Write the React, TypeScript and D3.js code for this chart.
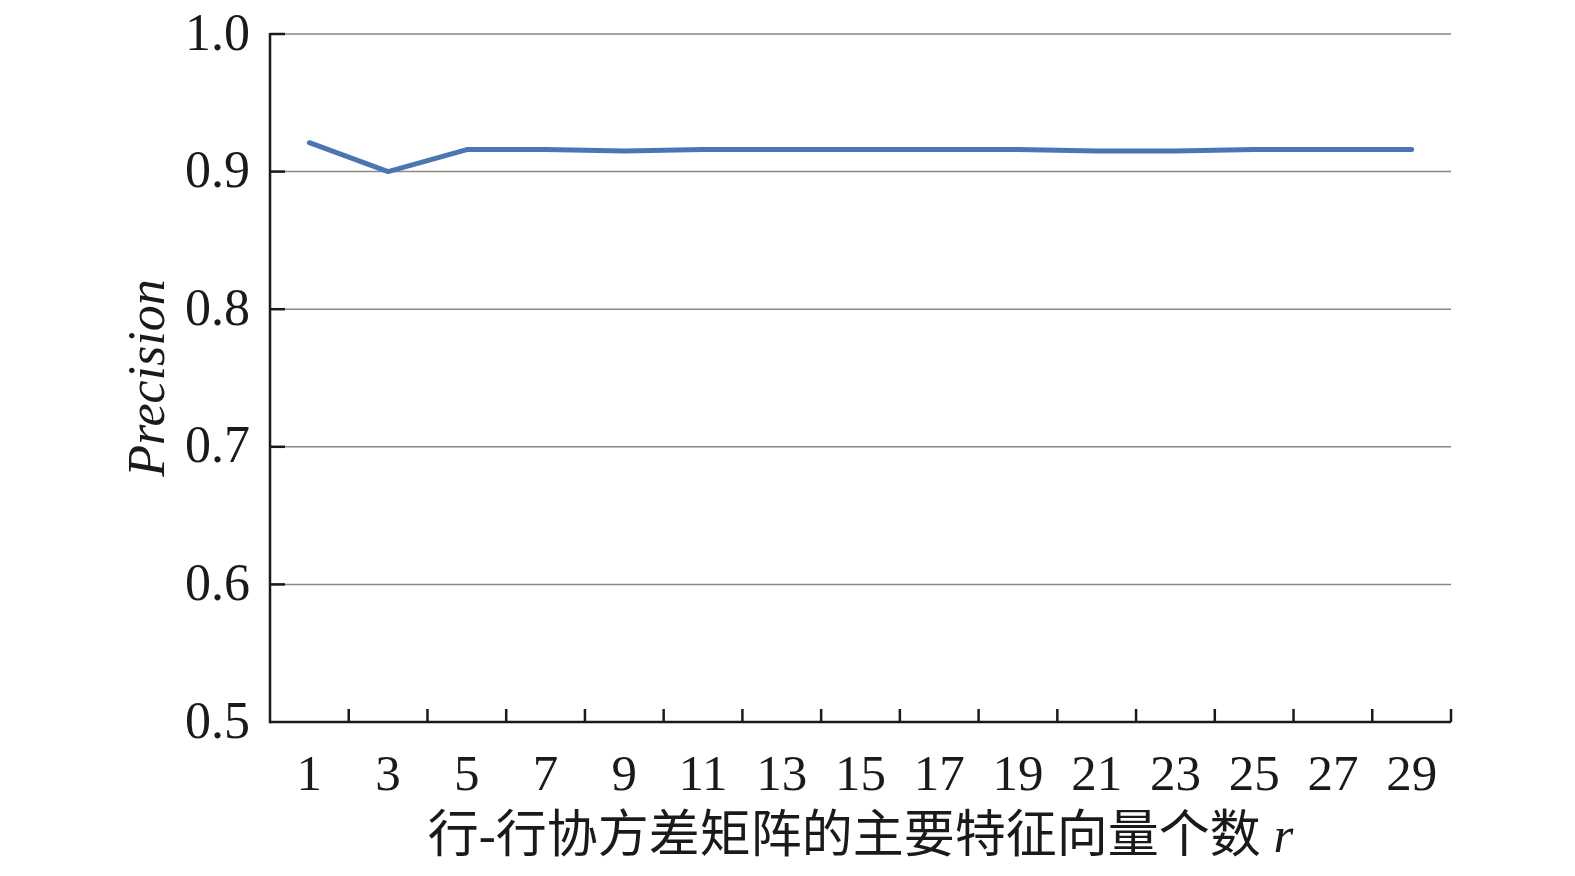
import * as d3 from 'd3'

// categories (number of principal eigenvectors r)
const categories = ['1', '3', '5', '7', '9', '11', '13', '15', '17', '19', '21', '23', '25', '27', '29']
// precision values
const precision = [0.921, 0.9, 0.916, 0.916, 0.915, 0.916, 0.916, 0.916, 0.916, 0.916, 0.915, 0.915, 0.916, 0.916, 0.916]
const yTicks = [0.5, 0.6, 0.7, 0.8, 0.9, 1.0]

const W = 1575
const H = 876
const margin = { top: 34, right: 124, bottom: 154, left: 270 }
const serif = '"Liberation Serif", "Times New Roman", serif'

export default function App() {
  const x = d3.scaleBand<string>()
    .domain(categories)
    .range([margin.left, W - margin.right])
    .padding(0)
  const y = d3.scaleLinear()
    .domain([0.5, 1.0])
    .range([H - margin.bottom, margin.top])

  const line = d3.line<number>()
    .x((_, i) => (x(categories[i]) || 0) + x.bandwidth() / 2)
    .y(d => y(d))

  const x0 = margin.left
  const x1 = W - margin.right
  const yBase = y(0.5)
  const boundaries = categories.map(c => (x(c) || 0) + x.bandwidth())

  return (
    <svg width={W} height={H} style={{ position: 'absolute', left: 0, top: 0, background: '#fff' }}>
      {/* grid lines */}
      {yTicks.filter(t => t > 0.5).map(t => (
        <line key={'g' + t} x1={x0} x2={x1} y1={y(t)} y2={y(t)} stroke="#888" strokeWidth={1.5} />
      ))}
      {/* y tick marks */}
      {yTicks.filter(t => t > 0.5).map(t => (
        <line key={'t' + t} x1={x0} x2={x0 + 15} y1={y(t)} y2={y(t)} stroke="#1a1a1a" strokeWidth={2.5} />
      ))}
      {/* y labels */}
      {yTicks.map(t => (
        <text key={'l' + t} x={x0 - 20} y={y(t)} dy="0.3em" textAnchor="end"
          fontFamily={serif} fontSize={52} fill="#1a1a1a">{d3.format('.1f')(t)}</text>
      ))}
      {/* axes */}
      <line x1={x0} x2={x0} y1={y(1.0) - 1} y2={yBase + 1.25} stroke="#1a1a1a" strokeWidth={2.5} />
      <line x1={x0} x2={x1} y1={yBase} y2={yBase} stroke="#1a1a1a" strokeWidth={2.5} />
      {boundaries.map((b, i) => (
        <line key={'xt' + i} x1={b} x2={b} y1={yBase} y2={yBase - 13} stroke="#1a1a1a" strokeWidth={2.5} />
      ))}
      {/* x labels */}
      {categories.map(c => (
        <text key={'xl' + c} x={(x(c) || 0) + x.bandwidth() / 2} y={yBase + 68} textAnchor="middle"
          fontFamily={serif} fontSize={51} fill="#1a1a1a">{c}</text>
      ))}
      {/* data line */}
      <path d={line(precision) || ''} fill="none" stroke="#4a77b4" strokeWidth={5}
        strokeLinejoin="round" strokeLinecap="round" />
      {/* x title */}
      <text x={(x0 + x1) / 2} y={yBase + 130} textAnchor="middle" fontFamily={'"Liberation Serif", "Noto Sans CJK SC", serif'}
        fontSize={51} fill="#1a1a1a">
        行-行协方差矩阵的主要特征向量个数 <tspan fontStyle="italic">r</tspan>
      </text>
      {/* y title */}
      <text transform={`translate(${164},${(y(0.5) + y(1.0)) / 2}) rotate(-90)`} textAnchor="middle"
        fontFamily={serif} fontStyle="italic" fontSize={52} fill="#1a1a1a">Precision</text>
    </svg>
  )
}
